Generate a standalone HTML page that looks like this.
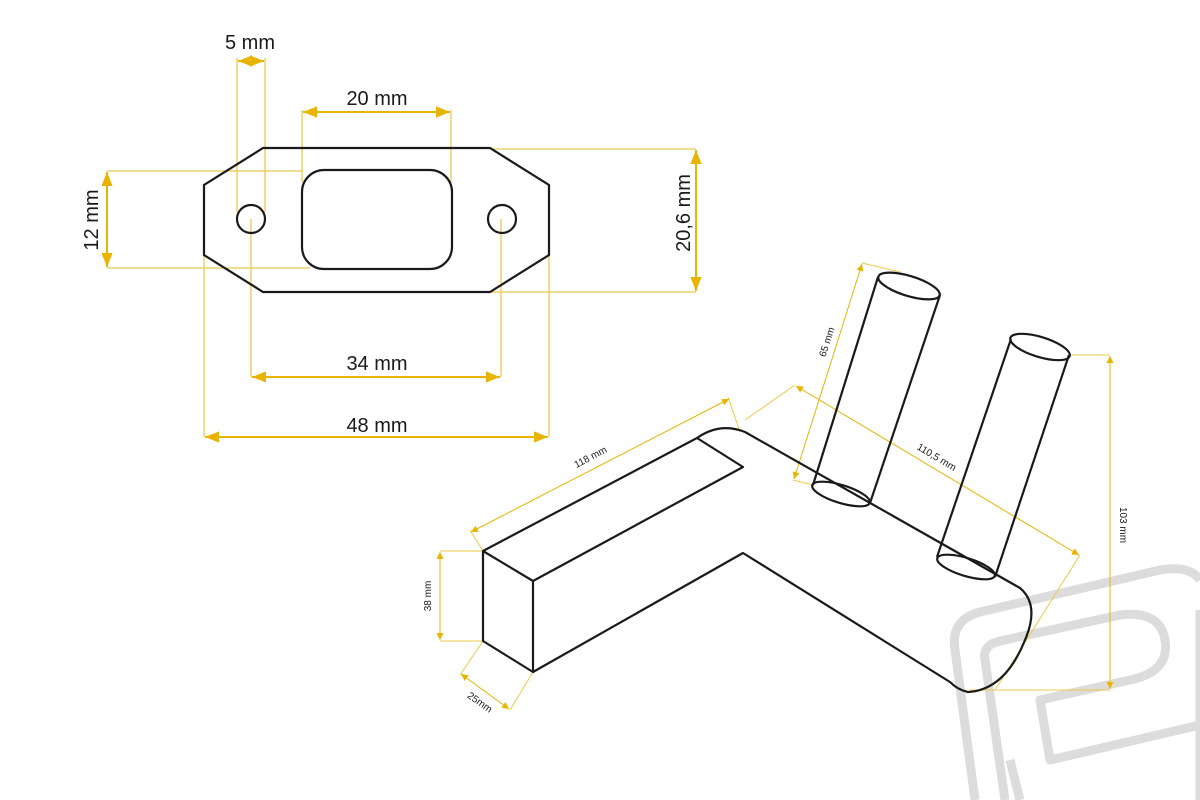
<!DOCTYPE html>
<html><head><meta charset="utf-8"><style>
html,body{margin:0;padding:0;background:#fff;width:1200px;height:800px;overflow:hidden}
svg{display:block}
text{font-family:"Liberation Sans",sans-serif;fill:#1a1a1a}
</style></head><body>
<svg width="1200" height="800" viewBox="0 0 1200 800" xmlns="http://www.w3.org/2000/svg">
<defs>
<marker id="a" viewBox="0 0 10 10" refX="10" refY="5" markerWidth="7" markerHeight="7" orient="auto-start-reverse" markerUnits="userSpaceOnUse"><path d="M0,0 L10,5 L0,10z" fill="#e8b400"/></marker>
<marker id="b" viewBox="0 0 10 10" refX="10" refY="5" markerWidth="14" markerHeight="14" orient="auto-start-reverse" markerUnits="userSpaceOnUse"><path d="M0,1 L10,5 L0,9z" fill="#e8b400"/></marker>
</defs>
<!-- watermark -->
<g fill="none" stroke="#dcdcdc" stroke-width="9" stroke-linejoin="round">
<path d="M975,800 L955,650 Q950,620 980,612 L1160,570 Q1190,565 1200,580"/>
<path d="M1005,800 L985,660 Q982,645 1000,641 L1120,615 Q1160,610 1165,640 Q1170,672 1130,680 L1040,700 L1050,760 L1200,725"/>
<path d="M1020,800 L1010,760"/>
<path d="M1200,610 L1200,800"/>
</g>
<!-- flange dims -->
<g stroke="#edc84a" stroke-width="1.3" fill="none">
<path d="M237,58V212 M265,58V212 M302,110V182 M451,110V182 M107,171H302 M107,268H310 M490,149H696 M490,292H696 M251,219V377 M501,219V377 M204,255V437 M549,255V437"/>
</g>
<g stroke="#e8b400" stroke-width="2" fill="none">
<line x1="238" y1="61" x2="264" y2="61" marker-start="url(#b)" marker-end="url(#b)"/>
<line x1="303" y1="112" x2="450" y2="112" marker-start="url(#b)" marker-end="url(#b)"/>
<line x1="107" y1="172" x2="107" y2="267" marker-start="url(#b)" marker-end="url(#b)"/>
<line x1="696" y1="150" x2="696" y2="291" marker-start="url(#b)" marker-end="url(#b)"/>
<line x1="252" y1="377" x2="500" y2="377" marker-start="url(#b)" marker-end="url(#b)"/>
<line x1="205" y1="437" x2="548" y2="437" marker-start="url(#b)" marker-end="url(#b)"/>
</g>
<g font-size="20">
<text x="250" y="49" text-anchor="middle">5 mm</text>
<text x="377" y="105" text-anchor="middle">20 mm</text>
<text x="377" y="370" text-anchor="middle">34 mm</text>
<text x="377" y="432" text-anchor="middle">48 mm</text>
<text transform="translate(98,220) rotate(-90)" text-anchor="middle">12 mm</text>
<text transform="translate(690,213) rotate(-90)" text-anchor="middle">20,6 mm</text>
</g>
<!-- flange -->
<g stroke="#1a1a1a" stroke-width="2.2" fill="none">
<polygon points="263,148 490,148 549,185 549,255 490,292 263,292 204,255 204,185"/>
<rect x="302" y="170" width="150" height="99" rx="22"/>
<ellipse cx="251" cy="219" rx="14" ry="14"/>
<ellipse cx="502" cy="219" rx="14" ry="14"/>
</g>
<!-- 3D dims -->
<g stroke="#edc84a" stroke-width="1" fill="none">
<path d="M483,551L470,530 M740,432L728,397 M745,420L795,385 M1080,555L995,690 M862,263L900,272 M793,480L813,485 M1069,355H1110 M970,690H1110 M440,551H483 M440,641H483 M483,641L460,675 M533,672L510,710"/>
</g>
<g stroke="#e8b400" stroke-width="1" fill="none">
<line x1="471" y1="532" x2="729" y2="399" marker-start="url(#a)" marker-end="url(#a)"/>
<line x1="796" y1="386" x2="1079" y2="555" marker-start="url(#a)" marker-end="url(#a)"/>
<line x1="862" y1="264" x2="794" y2="479" marker-start="url(#a)" marker-end="url(#a)"/>
<line x1="1110" y1="356" x2="1110" y2="689" marker-start="url(#a)" marker-end="url(#a)"/>
<line x1="440" y1="552" x2="440" y2="640" marker-start="url(#a)" marker-end="url(#a)"/>
<line x1="461" y1="674" x2="509" y2="709" marker-start="url(#a)" marker-end="url(#a)"/>
</g>
<g font-size="10">
<text transform="translate(592,460) rotate(-28)" text-anchor="middle">118 mm</text>
<text transform="translate(935,460) rotate(31)" text-anchor="middle">110,5 mm</text>
<text transform="translate(830,343) rotate(-72)" text-anchor="middle">65 mm</text>
<text transform="translate(1120,525) rotate(90)" text-anchor="middle">103 mm</text>
<text transform="translate(431,596) rotate(-90)" text-anchor="middle">38 mm</text>
<text transform="translate(478,705) rotate(35)" text-anchor="middle">25mm</text>
</g>
<!-- 3D part -->
<g stroke="#1a1a1a" stroke-width="2.2" fill="none" stroke-linejoin="round">
<path d="M483,551 L533,581 L533,672 L483,641 Z"/>
<path d="M483,551 L697,438 L743,467 L533,581"/>
<path d="M697,438 Q720,422 745,432 L1020,588 Q1040,605 1025,640 Q1005,690 968,692 Q958,690 950,682 L743,553 L533,672"/>
<path d="M878,277 L813,485 M940,295 L870,503"/>
<ellipse cx="909" cy="286" rx="32" ry="10" transform="rotate(17 909 286)"/>
<ellipse cx="841" cy="494" rx="30" ry="9" transform="rotate(17 841 494)"/>
<path d="M1011,339 L937,557 M1069,355 L995,577"/>
<ellipse cx="1040" cy="347" rx="31" ry="10" transform="rotate(17 1040 347)"/>
<ellipse cx="966" cy="567" rx="30" ry="9" transform="rotate(17 966 567)"/>
</g>
</svg>
</body></html>
